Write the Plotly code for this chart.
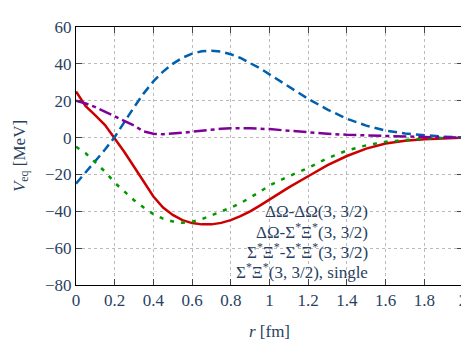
import plotly.graph_objects as go

# distance r [fm]
r = [0.0, 0.05, 0.1, 0.15, 0.2, 0.25, 0.3, 0.35, 0.4, 0.45, 0.5, 0.55, 0.6, 0.65, 0.7,
     0.75, 0.8, 0.85, 0.9, 0.95, 1.0, 1.1, 1.2, 1.3, 1.4, 1.5, 1.6, 1.7, 1.8, 1.9, 2.0]

# potentials [MeV]
v_dodo = [25, 17, 12, 6.8, -0.5, -7.8, -15.8, -24, -32, -38, -42, -44.8, -46.4, -47.1, -47.1,
          -46.3, -44.8, -42.6, -40, -36.9, -33.5, -27, -21, -15, -10, -6, -3.2, -1.7, -0.9, -0.4, -0.1]
v_do_sx = [-25, -19, -13, -6.5, 0.3, 8.5, 16.5, 24, 30.5, 35.8, 40, 43.3, 45.5, 46.8, 47.1,
           46.6, 45.2, 43.2, 40.6, 37.6, 34.3, 27.5, 21, 15.2, 10.2, 6.5, 3.8, 2.2, 1.2, 0.5, 0.1]
v_sxsx = [-5, -8.5, -13.5, -18.5, -24.5, -29.5, -34, -38, -41.5, -44, -45.5, -46.2, -45.7, -44.3, -42.3,
          -40.2, -38, -35.6, -32.7, -29.5, -26, -21, -16.5, -11.2, -7, -4.2, -2.3, -1.2, -0.5, -0.2, 0]
v_single = [20, 18.5, 16.5, 14, 11.5, 9.3, 6.5, 3.3, 2.1, 1.8, 2, 2.6, 3.2, 3.8, 4.4,
            4.8, 5, 5.1, 5, 4.8, 4.6, 3.7, 2.8, 2.1, 1.5, 1.1, 0.7, 0.5, 0.3, 0.1, 0]

labels = ["ΔΩ-ΔΩ(3, 3/2)", "ΔΩ-Σ<sup>*</sup>Ξ<sup>*</sup>(3, 3/2)",
          "Σ<sup>*</sup>Ξ<sup>*</sup>-Σ<sup>*</sup>Ξ<sup>*</sup>(3, 3/2)",
          "Σ<sup>*</sup>Ξ<sup>*</sup>(3, 3/2), single"]
x_ticks = [0, 0.2, 0.4, 0.6, 0.8, 1, 1.2, 1.4, 1.6, 1.8, 2]
x_ticktext = ["0", "0.2", "0.4", "0.6", "0.8", "1", "1.2", "1.4", "1.6", "1.8", "2"]
y_ticks = [-80, -60, -40, -20, 0, 20, 40, 60]
y_ticktext = ["−80", "−60", "−40", "−20", "0", "20", "40", "60"]

series = [v_dodo, v_do_sx, v_sxsx, v_single]
colors = ["#cc0000", "#0060ad", "#009900", "#7f0099"]
dashes = ["solid", "9px,5px", "4px,7px", "13px,4px,4px,4px"]

FONT = "Liberation Serif"

fig = go.Figure()
for ys, name, c, d in zip(series, labels, colors, dashes):
    fig.add_trace(go.Scatter(x=r, y=ys, mode="lines", name=name,
                             line=dict(color=c, width=2.5, dash=d), showlegend=False))

# legend text, right aligned (line samples left out in this test)
xt = (364 - 64) / 395
for i, name in enumerate(labels):
    yp = 1 - (210.5 + 21 * i - 12) / 277
    fig.add_annotation(x=xt, y=yp, xref="paper", yref="paper", text=name, showarrow=False,
                       xanchor="right", yanchor="middle", font=dict(size=17, family=FONT))

fig.update_layout(
    width=469, height=339, margin=dict(l=64, r=10, t=12, b=50),
    plot_bgcolor="white", paper_bgcolor="white",
    xaxis=dict(range=[0, 2], tickvals=x_ticks, ticktext=x_ticktext,
               title=dict(text="<i>r</i> [fm]", font=dict(size=17, family=FONT)),
               tickfont=dict(size=17, family=FONT),
               showline=True, linecolor="black", mirror="ticks", ticks="inside", ticklen=6,
               showgrid=True, gridcolor="#bbbbbb", griddash="dot", zeroline=False),
    yaxis=dict(range=[-80, 60], tickvals=y_ticks, ticktext=y_ticktext,
               title=dict(text="<i>V</i><sub>eq</sub> [MeV]", font=dict(size=17, family=FONT)),
               tickfont=dict(size=17, family=FONT),
               showline=True, linecolor="black", mirror="ticks", ticks="inside", ticklen=6,
               showgrid=True, gridcolor="#bbbbbb", griddash="dot", zeroline=False),
)

fig.write_html("out.html")
